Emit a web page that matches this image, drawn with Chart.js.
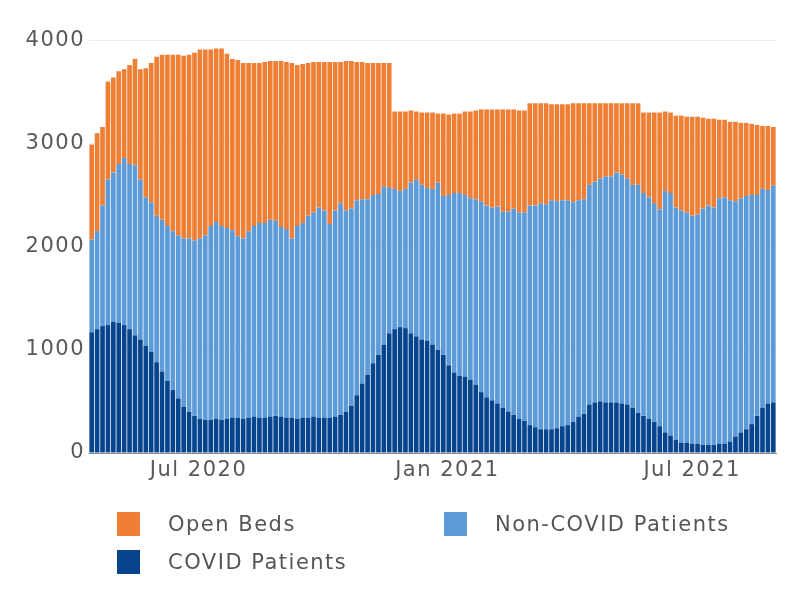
<!DOCTYPE html>
<html>
<head>
<meta charset="utf-8">
<script src="https://cdn.jsdelivr.net/npm/chart.js@4.4.1/dist/chart.umd.min.js"></script>
<style>
  html, body { margin: 0; padding: 0; background: #fff; }
  #wrap { position: relative; width: 800px; height: 614px; }
  #legend {
    position: absolute; left: 117px; top: 505px;
    display: grid; grid-template-columns: 327px 327px; grid-auto-rows: 38px;
    font-family: 'DejaVu Sans', sans-serif; font-size: 21px; letter-spacing: 1.5px; color: #555;
  }
  .item { display: flex; align-items: center; }
  .swatch { width: 23px; height: 24px; margin-right: 28px; }
</style>
</head>
<body>
<div id="wrap">
  <canvas id="chart" width="800" height="614"></canvas>
  <div id="legend"></div>
</div>
<script>
// one bar every 4 days, first bar centred on 13 Apr 2020
const axisStart = '2020-04-11';
const firstDate = '2020-04-13';
const stepDays = 4;

const tickDates = ['2020-07-01', '2021-01-01', '2021-07-01'];
const tickLabels = ['Jul 2020', 'Jan 2021', 'Jul 2021'];
const yTicks = [0, 1000, 2000, 3000, 4000];

const covid = [1170,1200,1230,1240,1270,1260,1240,1200,1140,1100,
  1040,980,880,790,700,610,530,450,400,360,
  330,320,320,330,320,330,340,340,330,340,
  350,340,340,350,360,350,340,340,330,340,
  340,350,340,340,340,350,370,400,460,560,
  670,760,870,950,1050,1160,1200,1220,1210,1160,
  1130,1100,1090,1050,1000,950,850,780,750,740,
  710,660,590,540,510,480,440,400,370,330,
  310,270,250,230,230,230,240,260,270,300,
  350,380,470,490,500,490,490,490,480,470,
  440,390,360,330,300,260,200,170,130,100,
  100,90,90,80,80,80,90,90,110,160,
  200,230,280,360,440,480,490];

const nonCovid = [900,950,1170,1410,1450,1540,1620,1600,1650,1550,
  1440,1450,1420,1470,1500,1540,1580,1630,1680,1700,
  1750,1790,1880,1910,1880,1850,1820,1760,1750,1810,
  1850,1890,1890,1910,1890,1840,1830,1740,1870,1890,
  1960,1980,2040,2010,1880,2000,2050,1950,1910,1890,
  1790,1700,1630,1560,1530,1410,1360,1320,1350,1460,
  1520,1500,1480,1510,1620,1540,1650,1740,1770,1760,
  1760,1800,1850,1860,1870,1910,1900,1940,2000,2000,
  2020,2130,2150,2190,2180,2220,2200,2190,2180,2130,
  2100,2080,2130,2140,2160,2190,2190,2230,2220,2190,
  2160,2210,2160,2150,2120,2100,2340,2350,2250,2250,
  2230,2210,2220,2290,2320,2300,2380,2390,2340,2280,
  2270,2260,2220,2140,2120,2070,2100];

const openBeds = [920,950,760,950,920,900,860,960,1030,1070,
  1250,1350,1540,1600,1660,1710,1750,1770,1780,1820,
  1830,1800,1710,1680,1720,1690,1660,1710,1700,1630,
  1580,1550,1560,1540,1550,1610,1620,1700,1560,1540,
  1480,1460,1410,1440,1570,1440,1370,1450,1430,1340,
  1330,1320,1280,1270,1200,1210,750,770,750,700,
  660,700,730,740,670,800,780,770,770,810,
  840,860,890,930,950,940,990,990,960,990,
  990,990,990,970,980,930,940,930,930,960,
  940,930,790,760,730,710,710,670,690,730,
  790,790,780,820,880,940,770,780,890,920,
  930,960,950,880,840,860,760,750,760,770,
  730,710,690,680,610,620,570];

const DAY = 86400000;
const dayOf = s => (Date.parse(s) - Date.parse(axisStart)) / DAY;
const firstDay = dayOf(firstDate);
const days = covid.map((v, i) => firstDay + i * stepDays);
const tickDays = tickDates.map(dayOf);

const series = [
  { label: 'COVID Patients', values: covid, color: '#06448d' },
  { label: 'Non-COVID Patients', values: nonCovid, color: '#5c9bd8' },
  { label: 'Open Beds', values: openBeds, color: '#ee7f35' }
];

Chart.defaults.font.family = "'DejaVu Sans', sans-serif";
Chart.defaults.font.size = 21;
Chart.defaults.color = '#595959';

const spacing = {
  id: 'spacing',
  beforeUpdate(chart) { chart.ctx.letterSpacing = '1.5px'; },
  beforeDraw(chart) { chart.ctx.letterSpacing = '1.5px'; }
};

new Chart(document.getElementById('chart'), {
  type: 'bar',
  data: {
    datasets: series.map(s => ({
      label: s.label,
      data: s.values.map((v, i) => ({ x: days[i], y: v })),
      backgroundColor: s.color,
      borderWidth: 0,
      barPercentage: 0.86,
      categoryPercentage: 1
    }))
  },
  plugins: [spacing],
  options: {
    responsive: false,
    animation: false,
    layout: { padding: { top: 30, right: 24, bottom: 129, left: 0 } },
    plugins: { legend: { display: false }, tooltip: { enabled: false } },
    scales: {
      x: {
        type: 'linear',
        stacked: true,
        offset: false,
        min: 0,
        max: 508,
        grid: { display: false, drawTicks: false },
        border: { display: true, color: '#8a8a8a', width: 1 },
        afterBuildTicks(axis) { axis.ticks = tickDays.map(v => ({ value: v })); },
        afterFit(axis) { axis.height = 32; },
        ticks: {
          autoSkip: false,
          maxRotation: 0,
          padding: 5,
          callback: (value, index) => tickLabels[index]
        }
      },
      y: {
        stacked: true,
        min: 0,
        max: 4100,
        grid: { color: '#ececec', drawTicks: false },
        border: { display: false },
        afterBuildTicks(axis) { axis.ticks = yTicks.map(v => ({ value: v })); },
        afterFit(axis) { axis.width = 89; },
        ticks: { autoSkip: false, padding: 4, callback: v => String(v) }
      }
    }
  }
});

// legend in two columns, top trace first
const legend = document.getElementById('legend');
[series[2], series[1], series[0]].forEach(s => {
  const item = document.createElement('div');
  item.className = 'item';
  item.innerHTML = '<span class="swatch" style="background:' + s.color + '"></span><span>' + s.label + '</span>';
  legend.appendChild(item);
});
</script>
</body>
</html>
